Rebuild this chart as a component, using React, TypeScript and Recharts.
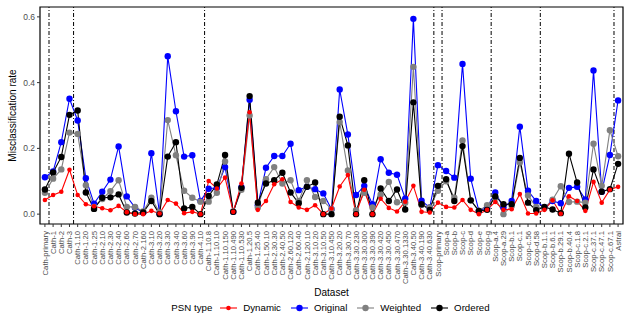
import React from 'react';
import { LineChart, Line, XAxis, YAxis, ReferenceLine, ReferenceArea, Legend } from 'recharts';

const datasets = [
    'Cath-primary', 'Cath-1', 'Cath-2', 'Cath-3',
    'Cath-1.10', 'Cath-1.20', 'Cath-1.25', 'Cath-2.10', 'Cath-2.30', 'Cath-2.40', 'Cath-2.60', 'Cath-2.70',
    'Cath-2.160', 'Cath-3.10', 'Cath-3.20', 'Cath-3.30', 'Cath-3.40', 'Cath-3.60', 'Cath-3.90', 'Cath-4.10',
    'Cath-1.10.8', 'Cath-1.10.10', 'Cath-1.10.150', 'Cath-1.10.490', 'Cath-1.10.530', 'Cath-1.20.5',
    'Cath-1.25.40', 'Cath-1.50.10', 'Cath-2.30.30', 'Cath-2.40.50', 'Cath-2.60.120', 'Cath-2.60.40',
    'Cath-2.120.10', 'Cath-3.10.20', 'Cath-3.10.50', 'Cath-3.10.450', 'Cath-3.20.20', 'Cath-3.30.70',
    'Cath-3.30.230', 'Cath-3.30.300', 'Cath-3.30.390', 'Cath-3.30.420', 'Cath-3.30.450', 'Cath-3.30.470',
    'Cath-3.30.1330', 'Cath-3.40.50', 'Cath-3.40.190', 'Cath-3.40.630',
    'Scop-primary', 'Scop-a', 'Scop-b', 'Scop-c', 'Scop-d', 'Scop-e', 'Scop-g',
    'Scop-a.4', 'Scop-a.29', 'Scop-b.1', 'Scop-c.1', 'Scop-c.56', 'Scop-d.58',
    'Scop-b.1.1', 'Scop-b.6.1', 'Scop-b.29.1', 'Scop-b.40.4', 'Scop-c.1.8', 'Scop-c.2.1', 'Scop-c.37.1',
    'Scop-c.47.1', 'Scop-c.67.1', 'Astral',
];

const dynamic = [
    0.043, 0.058, 0.068, 0.135, 0.058, 0.03, 0.024, 0.018, 0.012, 0.025, 0.006, 0.0,
    0.0, 0.01, 0.002, 0.043, 0.032, 0.003, 0.007, 0.0, 0.101, 0.078, 0.111, 0.007,
    0.093, 0.31, 0.013, 0.04, 0.091, 0.106, 0.037, 0.02, 0.013, 0.027, 0.0, 0.017,
    0.084, 0.119, 0.0, 0.074, 0.0, 0.047, 0.019, 0.008, 0.038, 0.086, 0.007, 0.005,
    0.035, 0.022, 0.02, 0.043, 0.013, 0.0, 0.013, 0.037, 0.013, 0.015, 0.061, 0.002,
    0.002, 0.013, 0.042, 0.001, 0.054, 0.04, 0.01, 0.098, 0.035, 0.074, 0.083,
];

const original = [
    0.112, 0.13, 0.219, 0.351, 0.285, 0.109, 0.032, 0.068, 0.105, 0.206, 0.054, 0.02,
    0.005, 0.185, 0.002, 0.48, 0.313, 0.175, 0.179, 0.04, 0.077, 0.08, 0.143, 0.007,
    0.082, 0.348, 0.027, 0.141, 0.177, 0.177, 0.214, 0.073, 0.083, 0.076, 0.063, 0.015,
    0.379, 0.242, 0.058, 0.086, 0.03, 0.167, 0.126, 0.12, 0.047, 0.594, 0.041, 0.02,
    0.149, 0.131, 0.111, 0.457, 0.108, 0.01, 0.02, 0.066, 0.02, 0.04, 0.266, 0.071,
    0.04, 0.02, 0.04, 0.033, 0.08, 0.083, 0.045, 0.437, 0.068, 0.18, 0.346,
];

const weighted = [
    0.065, 0.108, 0.136, 0.248, 0.244, 0.088, 0.022, 0.046, 0.07, 0.103, 0.022, 0.022,
    0.008, 0.05, 0.005, 0.286, 0.179, 0.071, 0.05, 0.038, 0.038, 0.065, 0.16, 0.008,
    0.074, 0.3, 0.02, 0.106, 0.143, 0.093, 0.103, 0.04, 0.103, 0.052, 0.04, 0.015,
    0.28, 0.133, 0.012, 0.065, 0.02, 0.06, 0.098, 0.036, 0.035, 0.448, 0.028, 0.02,
    0.071, 0.1, 0.05, 0.224, 0.042, 0.01, 0.027, 0.05, 0.0, 0.025, 0.157, 0.057,
    0.022, 0.018, 0.044, 0.085, 0.037, 0.038, 0.035, 0.214, 0.086, 0.255, 0.176,
];

const ordered = [
    0.075, 0.127, 0.174, 0.302, 0.315, 0.066, 0.016, 0.05, 0.051, 0.06, 0.005, 0.002,
    0.005, 0.04, 0.0, 0.175, 0.219, 0.017, 0.022, 0.0, 0.055, 0.09, 0.18, 0.007,
    0.08, 0.359, 0.035, 0.093, 0.103, 0.126, 0.066, 0.033, 0.083, 0.096, 0.0, 0.0,
    0.296, 0.209, 0.0, 0.103, 0.0, 0.078, 0.04, 0.075, 0.014, 0.34, 0.03, 0.013,
    0.086, 0.106, 0.04, 0.207, 0.042, 0.01, 0.013, 0.054, 0.03, 0.03, 0.171, 0.035,
    0.012, 0.022, 0.014, 0.003, 0.184, 0.096, 0.02, 0.136, 0.068, 0.076, 0.153,
];

const yTicks = [0, 0.2, 0.4, 0.6];
// dot-dash separators between dataset groups
const groupBreaks = [0.5, 3.5, 19.5, 47.5, 48.5, 54.5, 60.5, 69.5];

const legendOrder = [
    { key: 'dynamic', name: 'Dynamic', color: '#FF0000', r: 2.3 },
    { key: 'original', name: 'Original', color: '#0000FF', r: 3.2 },
    { key: 'weighted', name: 'Weighted', color: '#808080', r: 3.2 },
    { key: 'ordered', name: 'Ordered', color: '#000000', r: 3.2 },
];
// drawing order (red points end up on top)
const drawOrder = ['original', 'weighted', 'ordered', 'dynamic'];

const FONT = '"Liberation Sans", Arial, Helvetica, sans-serif';

const data = datasets.map((name, i) => ({
    idx: i,
    name,
    dynamic: dynamic[i],
    original: original[i],
    weighted: weighted[i],
    ordered: ordered[i],
}));

function DatasetTick(props: any) {
    const { x, y, payload } = props;
    return (
        <g transform={`translate(${x},${y})`}>
            <text transform="rotate(-90)" x={0} y={0} dy="0.34em" textAnchor="end"
                fontSize={7.7} fill="#4D4D4D" fontFamily={FONT}>
                {datasets[payload.value]}
            </text>
        </g>
    );
}

function PsnLegend() {
    return (
        <div style={{
            height: 22, boxSizing: 'border-box', paddingTop: 8, paddingLeft: 40,
            display: 'flex', justifyContent: 'center', alignItems: 'center',
            fontFamily: FONT, fontSize: 9.7, color: '#000', lineHeight: '14px',
        }}>
            <span>PSN type</span>
            {legendOrder.map((s) => (
                <React.Fragment key={s.key}>
                    <svg width={17} height={10} style={{ marginLeft: 8 }}>
                        <line x1={0} x2={17} y1={5} y2={5} stroke={s.color} strokeWidth={1.1} />
                        <circle cx={8.5} cy={5} r={s.r} fill={s.color} />
                    </svg>
                    <span style={{ marginLeft: 6, marginRight: 2 }}>{s.name}</span>
                </React.Fragment>
            ))}
        </div>
    );
}

export default function App() {
    return (
        <div style={{ position: 'absolute', left: 0, top: 0, background: '#fff' }}>
            <LineChart width={630} height={315} data={data}
                margin={{ top: 7, right: 7, bottom: 0, left: 0 }}>
                <XAxis
                    dataKey="idx"
                    type="number"
                    domain={[-0.6, 70.6]}
                    ticks={datasets.map((_, i) => i)}
                    interval={0}
                    tick={<DatasetTick />}
                    tickSize={3}
                    tickMargin={4}
                    height={69}
                    axisLine={false}
                    tickLine={{ stroke: '#333' }}
                    label={{
                        content: () => (
                            <text x={331.5} y={295.5} textAnchor="middle" fontSize={10}
                                fontFamily={FONT} fill="#000">Dataset</text>
                        ),
                    }}
                />
                <YAxis
                    type="number"
                    domain={[-0.03, 0.63]}
                    ticks={yTicks}
                    tickFormatter={(v: number) => v.toFixed(1)}
                    width={40}
                    tickSize={3}
                    tickMargin={2}
                    axisLine={false}
                    tickLine={{ stroke: '#333' }}
                    tick={{ fill: '#4D4D4D', fontSize: 8.5, fontFamily: FONT }}
                    label={{
                        content: () => (
                            <text x={12} y={115.5} transform="rotate(-90 12 115.5)" textAnchor="middle"
                                dominantBaseline="central" fontSize={10} fontFamily={FONT} fill="#000">
                                Misclassification rate
                            </text>
                        ),
                    }}
                />
                <ReferenceArea x1={-0.6} x2={70.6} y1={-0.03} y2={0.63}
                    fill="none" stroke="#000" strokeWidth={1.2} />
                {groupBreaks.map((b) => (
                    <ReferenceLine key={b} x={b} stroke="#000" strokeWidth={1} strokeDasharray="4 2 1 2" />
                ))}
                {drawOrder.map((k) => {
                    const s = legendOrder.find((l) => l.key === k)!;
                    return (
                        <Line
                            key={k}
                            type="linear"
                            dataKey={k}
                            name={s.name}
                            stroke={s.color}
                            strokeWidth={1.1}
                            dot={{ r: s.r, fill: s.color, stroke: 'none' }}
                            activeDot={false}
                            isAnimationActive={false}
                        />
                    );
                })}
                <Legend verticalAlign="bottom" content={<PsnLegend />} />
            </LineChart>
        </div>
    );
}
